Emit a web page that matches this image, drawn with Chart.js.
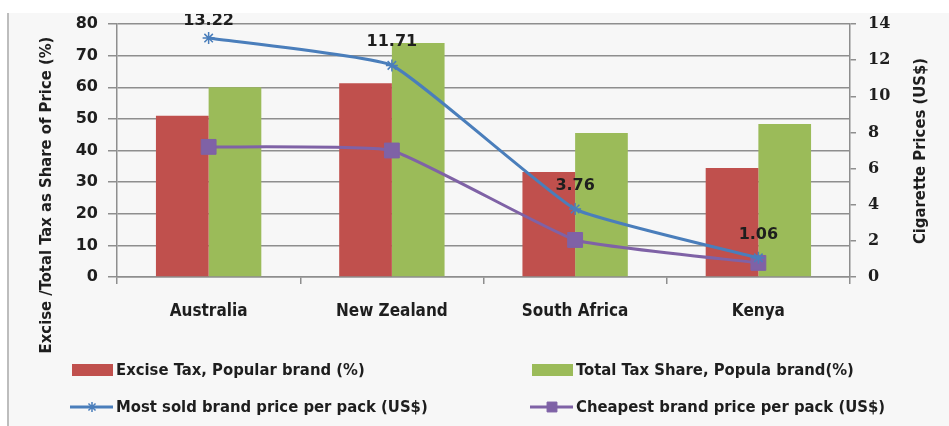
<!DOCTYPE html>
<html>
<head>
<meta charset="utf-8">
<script src="https://cdn.jsdelivr.net/npm/chart.js@4.4.1/dist/chart.umd.min.js"></script>
<style>
  html, body { margin: 0; padding: 0; background: #ffffff; }
  #wrap { position: relative; width: 949px; height: 426px; }
  canvas { display: block; }
</style>
</head>
<body>
<div id="wrap"><canvas id="c" width="949" height="426"></canvas></div>
<script>
// Countries compared
const countries = ['Australia', 'New Zealand', 'South Africa', 'Kenya'];

// Tax shares of the retail price (%), left axis
const exciseTax = [51, 61.3, 33.2, 34.5];
const totalTaxShare = [60, 74, 45.5, 48.4];

// Pack prices (US$), right axis
const mostSoldPrice = [13.22, 11.71, 3.76, 1.06];
const cheapestPrice = [7.2, 7.0, 2.05, 0.78];

// Axis ranges and steps
const leftAxis = { min: 0, max: 80, step: 10 };
const rightAxis = { min: 0, max: 14, step: 2 };

const seriesNames = [
  'Excise Tax, Popular brand (%)',
  'Total Tax Share, Popula brand(%)',
  'Most sold brand price per pack (US$)',
  'Cheapest brand price per pack (US$)'
];
const leftTitle = 'Excise /Total Tax as Share of Price (%)';
const rightTitle = 'Cigarette Prices (US$)';

const RED = '#C0504D', GREEN = '#9BBB59', BLUE = '#4A7EBB', PURPLE = '#7F62A6';
const GRID = '#8e8e8e';
const TEXT = '#1e1e1e';
const SANS = '"DejaVu Sans Condensed", "DejaVu Sans", sans-serif';

// Page frame: white strip on top, light grey panel with a left rule
const framePlugin = {
  id: 'frame',
  beforeDraw(chart) {
    const ctx = chart.ctx;
    ctx.save();
    ctx.fillStyle = '#ffffff';
    ctx.fillRect(0, 0, chart.width, chart.height);
    ctx.fillStyle = '#f7f7f7';
    ctx.fillRect(9, 13, chart.width - 9, chart.height - 13);
    ctx.fillStyle = '#bdbdbd';
    ctx.fillRect(7, 13, 2, chart.height - 13);
    ctx.restore();
  }
};

// Rotated axis titles
function drawRotated(ctx, text, cx, cy) {
  ctx.save();
  ctx.fillStyle = TEXT;
  ctx.font = 'bold 16.5px ' + SANS;
  ctx.textAlign = 'center';
  ctx.textBaseline = 'middle';
  ctx.translate(cx, cy);
  ctx.rotate(-Math.PI / 2);
  ctx.fillText(text, 0, 0);
  ctx.restore();
}
const titlesPlugin = {
  id: 'axisTitles',
  afterDraw(chart) {
    drawRotated(chart.ctx, leftTitle, 47, 195);
    drawRotated(chart.ctx, rightTitle, 921, 151);
  }
};

// Value labels above the most-sold-brand points, kept inside the panel
const valueLabels = {
  id: 'valueLabels',
  afterDatasetsDraw(chart) {
    const ctx = chart.ctx;
    const meta = chart.getDatasetMeta(2);
    const area = chart.chartArea;
    ctx.save();
    ctx.beginPath();
    ctx.rect(0, 14, chart.width, chart.height - 14);
    ctx.clip();
    ctx.fillStyle = TEXT;
    ctx.font = 'bold 16px "DejaVu Sans", sans-serif';
    ctx.textAlign = 'center';
    ctx.textBaseline = 'alphabetic';
    meta.data.forEach((pt, i) => {
      const y = Math.max(pt.y - 19, area.top + 1);
      ctx.fillText(mostSoldPrice[i].toFixed(2), pt.x, y);
    });
    ctx.restore();
  }
};

// Two-column legend under the axis labels
const legendPlugin = {
  id: 'twoColLegend',
  afterDraw(chart) {
    const ctx = chart.ctx;
    const ds = chart.data.datasets;
    const cols = [72, 532];
    const rows = [370, 407];
    ctx.save();
    ctx.font = 'bold 16.5px ' + SANS;
    ctx.textBaseline = 'middle';
    ctx.textAlign = 'left';
    const items = [
      { d: ds[0], c: 0, r: 0, kind: 'box' },
      { d: ds[1], c: 1, r: 0, kind: 'box' },
      { d: ds[2], c: 0, r: 1, kind: 'line' },
      { d: ds[3], c: 1, r: 1, kind: 'line' }
    ];
    items.forEach(it => {
      const x = cols[it.c], y = rows[it.r];
      if (it.kind === 'box') {
        ctx.fillStyle = it.d.backgroundColor;
        ctx.fillRect(x, y - 6, 41, 12);
      } else {
        ctx.strokeStyle = it.d.borderColor;
        ctx.lineWidth = 3;
        ctx.beginPath();
        ctx.moveTo(x - 2, y);
        ctx.lineTo(x + 41, y);
        ctx.stroke();
        ctx.fillStyle = it.d.pointBackgroundColor;
        ctx.strokeStyle = it.d.pointBorderColor;
        ctx.lineWidth = it.d.pointBorderWidth;
        Chart.helpers.drawPoint(ctx, {
          pointStyle: it.d.pointStyle,
          radius: it.d.pointStyle === 'rect' ? 7 : 5,
          borderWidth: it.d.pointBorderWidth
        }, x + 20, y);
      }
      ctx.fillStyle = TEXT;
      ctx.fillText(it.d.label, x + 44, y + 1);
    });
    ctx.restore();
  }
};

const ctx = document.getElementById('c').getContext('2d');
new Chart(ctx, {
  data: {
    labels: countries,
    datasets: [
      {
        type: 'bar', label: seriesNames[0], data: exciseTax,
        backgroundColor: RED, yAxisID: 'y', order: 2,
        barPercentage: 1, categoryPercentage: 0.575
      },
      {
        type: 'bar', label: seriesNames[1], data: totalTaxShare,
        backgroundColor: GREEN, yAxisID: 'y', order: 2,
        barPercentage: 1, categoryPercentage: 0.575
      },
      {
        type: 'line', label: seriesNames[2], data: mostSoldPrice,
        borderColor: BLUE, backgroundColor: BLUE, borderWidth: 3,
        pointStyle: 'star', pointRadius: 6, pointBorderWidth: 1.5,
        pointBorderColor: BLUE, pointBackgroundColor: BLUE,
        tension: 0.12, yAxisID: 'y1', order: 0
      },
      {
        type: 'line', label: seriesNames[3], data: cheapestPrice,
        borderColor: PURPLE, backgroundColor: PURPLE, borderWidth: 3,
        pointStyle: 'rect', pointRadius: 10.5, pointBorderWidth: 1,
        pointBorderColor: PURPLE, pointBackgroundColor: PURPLE,
        tension: 0.12, yAxisID: 'y1', order: 1
      }
    ]
  },
  options: {
    responsive: false,
    animation: false,
    layout: { padding: { left: 60, right: 40, top: 24, bottom: 0 } },
    plugins: {
      legend: { display: false },
      tooltip: { enabled: false }
    },
    scales: {
      x: {
        type: 'category',
        offset: true,
        grid: { offset: true, drawOnChartArea: false, drawTicks: true, tickLength: 7, color: GRID, lineWidth: 1.5 },
        border: { display: true, color: GRID, width: 1.5 },
        ticks: { color: TEXT, padding: 17, font: { family: SANS, size: 17, weight: 'bold' } },
        afterFit(s) { s.height = 149; }
      },
      y: {
        position: 'left',
        min: leftAxis.min, max: leftAxis.max,
        grid: { color: GRID, lineWidth: 1.5, tickLength: 9 },
        border: { display: true, color: GRID, width: 1.5 },
        ticks: { stepSize: leftAxis.step, color: TEXT, padding: 10, font: { family: '"DejaVu Sans", sans-serif', size: 16, weight: 'bold' } },
        afterFit(s) { s.width = 57; }
      },
      y1: {
        position: 'right',
        min: rightAxis.min, max: rightAxis.max,
        grid: { drawOnChartArea: false, color: GRID, lineWidth: 1.5, tickLength: 6 },
        border: { display: true, color: GRID, width: 1.5 },
        ticks: { stepSize: rightAxis.step, color: TEXT, padding: 12, font: { family: '"DejaVu Serif", serif', size: 16, weight: 'bold' } },
        afterFit(s) { s.width = 59; }
      }
    }
  },
  plugins: [framePlugin, valueLabels, titlesPlugin, legendPlugin]
});
</script>
</body>
</html>
